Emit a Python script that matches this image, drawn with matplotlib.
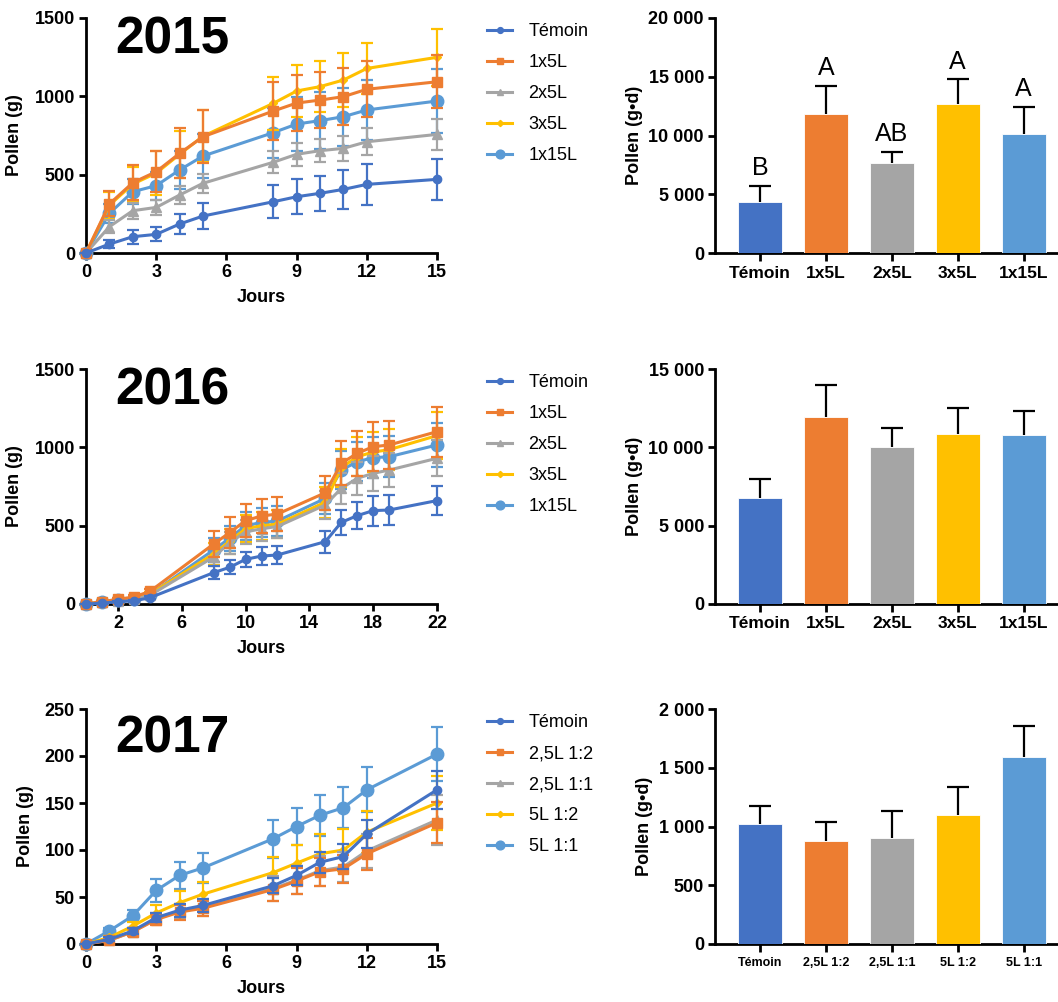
import matplotlib
matplotlib.use("Agg")
from matplotlib import pyplot as plt
from matplotlib.lines import Line2D
from matplotlib.ticker import FuncFormatter

plt.rcParams.update({
    "figure.facecolor": "white",
    "axes.facecolor": "white",
    "savefig.facecolor": "white",
    "font.family": ["Liberation Sans", "DejaVu Sans"],
    "font.weight": "bold",
})

colors = ["#4472C4", "#ED7D31", "#A5A5A5", "#FFC000", "#5B9BD5"]
markers = ["o", "s", "^", "D", "o"]
msizes = [6, 6.5, 6.5, 4.5, 9]

# ---- 2015 ----
labels_a = ["Témoin", "1x5L", "2x5L", "3x5L", "1x15L"]
days_2015 = [0, 1, 2, 3, 4, 5, 8, 9, 10, 11, 12, 15]
temoin_2015 = [0, 57, 104, 119, 185, 236, 327, 359, 381, 406, 438, 470]
temoin_2015_err = [0, 25, 45, 45, 65, 80, 105, 112, 112, 125, 130, 133]
t1x5_2015 = [0, 313, 449, 519, 636, 742, 906, 957, 976, 998, 1045, 1093]
t1x5_2015_err = [0, 80, 110, 130, 160, 170, 185, 180, 180, 180, 180, 170]
t2x5_2015 = [0, 168, 270, 291, 370, 445, 579, 630, 653, 668, 710, 757]
t2x5_2015_err = [0, 40, 50, 50, 60, 60, 70, 75, 75, 80, 86, 98]
t3x5_2015 = [0, 305, 440, 510, 630, 745, 955, 1034, 1062, 1104, 1178, 1249]
t3x5_2015_err = [0, 85, 110, 140, 150, 165, 170, 165, 165, 170, 165, 180]
t1x15_2015 = [0, 253, 391, 430, 530, 619, 768, 823, 845, 870, 913, 970]
t1x15_2015_err = [0, 60, 80, 90, 120, 140, 160, 175, 180, 185, 190, 205]

bar_2015 = [4315, 11830, 7630, 12650, 10150]
bar_2015_err = [1385, 2380, 990, 2150, 2300]
letters_2015 = ["B", "A", "AB", "A", "A"]

# ---- 2016 ----
days_2016 = [0, 1, 2, 3, 4, 8, 9, 10, 11, 12, 15, 16, 17, 18, 19, 22]
temoin_2016 = [0, 5, 15, 20, 40, 200, 234, 285, 306, 313, 398, 521, 564, 596, 600, 660]
temoin_2016_err = [0, 3, 5, 6, 8, 40, 45, 50, 55, 55, 70, 80, 85, 95, 95, 95]
t1x5_2016 = [0, 15, 30, 45, 80, 383, 455, 532, 562, 574, 710, 898, 962, 1004, 1015, 1100]
t1x5_2016_err = [0, 5, 10, 12, 15, 85, 98, 106, 106, 110, 110, 140, 145, 155, 153, 160]
t2x5_2016 = [0, 10, 22, 32, 55, 300, 390, 460, 480, 495, 632, 738, 802, 834, 855, 930]
t2x5_2016_err = [0, 4, 8, 10, 12, 60, 70, 75, 75, 75, 90, 100, 105, 110, 110, 115]
t3x5_2016 = [0, 12, 25, 38, 62, 320, 400, 480, 500, 510, 650, 870, 940, 970, 985, 1075]
t3x5_2016_err = [0, 4, 8, 10, 12, 70, 80, 85, 90, 90, 100, 120, 125, 130, 130, 150]
t1x15_2016 = [0, 10, 25, 35, 60, 345, 420, 500, 520, 530, 674, 855, 908, 934, 940, 1015]
t1x15_2016_err = [0, 4, 8, 10, 12, 75, 80, 90, 95, 95, 100, 120, 125, 130, 130, 140]

bar_2016 = [6785, 11960, 10000, 10850, 10790]
bar_2016_err = [1195, 2020, 1255, 1680, 1510]

# ---- 2017 ----
labels_b = ["Témoin", "2,5L 1:2", "2,5L 1:1", "5L 1:2", "5L 1:1"]
days_2017 = [0, 1, 2, 3, 4, 5, 8, 9, 10, 11, 12, 15]
temoin_2017 = [0, 5, 14, 28, 36, 41, 62, 73, 87, 93, 117, 164]
temoin_2017_err = [0, 2, 3, 5, 7, 7, 8, 10, 11, 13, 15, 20]
t25_12_2017 = [0, 4, 13, 26, 34, 38, 58, 67, 77, 80, 96, 129]
t25_12_2017_err = [0, 2, 4, 6, 8, 8, 12, 14, 15, 15, 17, 22]
t25_11_2017 = [0, 4, 13, 27, 35, 39, 59, 68, 78, 82, 99, 132]
t25_11_2017_err = [0, 2, 4, 6, 8, 9, 13, 15, 16, 16, 18, 27]
t5_12_2017 = [0, 7, 19, 33, 44, 53, 76, 86, 96, 100, 119, 150]
t5_12_2017_err = [0, 2, 4, 9, 12, 13, 17, 19, 21, 22, 22, 29]
t5_11_2017 = [0, 14, 30, 57, 73, 81, 112, 125, 137, 145, 164, 202]
t5_11_2017_err = [0, 3, 6, 12, 14, 16, 20, 20, 22, 22, 24, 29]

bar_2017 = [1021, 879, 905, 1098, 1594]
bar_2017_err = [153, 157, 230, 238, 261]

W, H = 1058, 1002
fig = plt.figure(figsize=(W / 100, H / 100), dpi=100)


def fx(px):
    return px / W


def fy(px):
    return 1 - px / H


def style_axes(ax):
    for s in ["top", "right"]:
        ax.spines[s].set_visible(False)
    for s in ["left", "bottom"]:
        ax.spines[s].set_linewidth(2.0)
    ax.tick_params(width=2.0, length=5, labelsize=13, pad=3)
    for lab in ax.get_xticklabels() + ax.get_yticklabels():
        lab.set_fontweight("bold")


def thousands(v, pos):
    return f"{int(round(v)):,}".replace(",", " ")


def line_panel(top_px, days, series, errs, labels, ymax, yticks, xticks, xmax, year, year_y):
    ax = fig.add_axes([fx(86), fy(top_px + 235), fx(351), 235 / H])
    n = len(series)
    for i in range(n):
        ax.errorbar(days, series[i], yerr=errs[i], color=colors[i], marker=markers[i],
                    markersize=msizes[i], linewidth=2.2, elinewidth=1.6, capsize=4.5,
                    capthick=1.6, clip_on=False, zorder=10 - i)
    ax.set_xlim(0, xmax)
    ax.set_ylim(0, ymax)
    ax.set_xticks(xticks)
    ax.set_yticks(yticks)
    style_axes(ax)
    ax.set_xlabel("Jours", fontsize=13, fontweight="bold", labelpad=6)
    ax.set_ylabel("Pollen (g)", fontsize=13, fontweight="bold", labelpad=8)
    ax.text(29 / 351, year_y, year, transform=ax.transAxes, fontsize=37,
            fontweight="bold", va="baseline", ha="left")
    handles = [Line2D([], [], color=colors[i], marker=markers[i], markersize=msizes[i] * 0.7,
                      linewidth=2.2) for i in range(n)]
    fig.legend(handles, labels, loc="upper left", bbox_to_anchor=(fx(487), fy(top_px + 5)),
               frameon=False, borderpad=0, borderaxespad=0, handlelength=1.4,
               handletextpad=0.9, labelspacing=0.78,
               prop={"size": 13, "weight": "normal"})
    return ax


def bar_panel(top_px, values, errs, labels, ymax, yticks, xfont, letters=None):
    ax = fig.add_axes([fx(715), fy(top_px + 235), fx(343), 235 / H])
    x = list(range(len(values)))
    ax.bar(x, values, width=0.667, color=colors, edgecolor="white", linewidth=0.6, zorder=3)
    eb = ax.errorbar(x, values, yerr=[[0] * len(values), errs], fmt="none", ecolor="black",
                     elinewidth=1.6, capsize=8, capthick=1.6, zorder=2)
    # keep only the upper caps
    for cap in eb[1]:
        if list(cap.get_ydata()) == list(values):
            cap.set_visible(False)
    ax.set_xlim(-0.68, 4.52)
    ax.set_ylim(0, ymax)
    ax.set_yticks(yticks)
    ax.yaxis.set_major_formatter(FuncFormatter(thousands))
    ax.set_xticks(x)
    ax.set_xticklabels(labels)
    style_axes(ax)
    ax.tick_params(axis="x", length=6, labelsize=xfont)
    for lab in ax.get_xticklabels() + ax.get_yticklabels():
        lab.set_fontweight("bold")
    ax.set_ylabel("Pollen (g•d)", fontsize=13, fontweight="bold", labelpad=4)
    if letters:
        for xi, v, e, t in zip(x, values, errs, letters):
            ax.annotate(t, (xi, v + e), xytext=(0, 4), textcoords="offset points",
                        ha="center", va="bottom", fontsize=18, fontweight="normal")
    return ax


line_panel(18, days_2015,
           [temoin_2015, t1x5_2015, t2x5_2015, t3x5_2015, t1x15_2015],
           [temoin_2015_err, t1x5_2015_err, t2x5_2015_err, t3x5_2015_err, t1x15_2015_err],
           labels_a, 1500, [0, 500, 1000, 1500], [0, 3, 6, 9, 12, 15], 15, "2015", 0.851)
line_panel(369, days_2016,
           [temoin_2016, t1x5_2016, t2x5_2016, t3x5_2016, t1x15_2016],
           [temoin_2016_err, t1x5_2016_err, t2x5_2016_err, t3x5_2016_err, t1x15_2016_err],
           labels_a, 1500, [0, 500, 1000, 1500], [2, 6, 10, 14, 18, 22], 22, "2016", 0.851)
line_panel(709, days_2017,
           [temoin_2017, t25_12_2017, t25_11_2017, t5_12_2017, t5_11_2017],
           [temoin_2017_err, t25_12_2017_err, t25_11_2017_err, t5_12_2017_err, t5_11_2017_err],
           labels_b, 250, [0, 50, 100, 150, 200, 250], [0, 3, 6, 9, 12, 15], 15, "2017", 0.814)

bar_panel(18, bar_2015, bar_2015_err, labels_a, 20000, [0, 5000, 10000, 15000, 20000], 12.5,
          letters_2015)
bar_panel(369, bar_2016, bar_2016_err, labels_a, 15000, [0, 5000, 10000, 15000], 12.5)
bar_panel(709, bar_2017, bar_2017_err, labels_b, 2000, [0, 500, 1000, 1500, 2000], 9)

fig.savefig("out.png", dpi=100)
